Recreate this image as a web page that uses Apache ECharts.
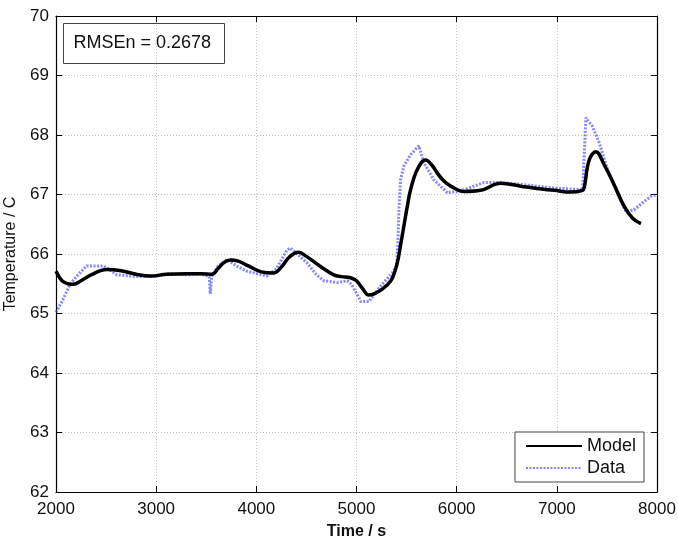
<!DOCTYPE html>
<html>
<head>
<meta charset="utf-8">
<script src="https://cdn.jsdelivr.net/npm/echarts@6/dist/echarts.min.js"></script>
<style>html,body{margin:0;padding:0;background:#fff}#c{width:678px;height:539px}</style>
</head>
<body>
<div id="c"></div>
<script>
const xTicks = [2000, 3000, 4000, 5000, 6000, 7000, 8000];
const yTicks = [62, 63, 64, 65, 66, 67, 68, 69, 70];

const modelTime = [2000, 2060, 2120, 2173, 2250, 2350, 2507, 2650, 2800, 2940, 3107, 3300, 3450, 3557, 3620, 3680, 3740, 3820, 3920, 4050, 4170, 4250, 4330, 4420, 4500, 4640, 4773, 4850, 4940, 5000, 5060, 5123, 5200, 5307, 5360, 5407, 5440, 5473, 5507, 5540, 5607, 5690, 5750, 5807, 5870, 5940, 6073, 6240, 6440, 6640, 6800, 6973, 7140, 7257, 7273, 7323, 7390, 7473, 7573, 7673, 7757, 7840];
const modelTemp = [65.71, 65.55, 65.50, 65.49, 65.55, 65.65, 65.74, 65.72, 65.66, 65.63, 65.66, 65.67, 65.67, 65.66, 65.76, 65.86, 65.90, 65.88, 65.80, 65.70, 65.68, 65.78, 65.95, 66.03, 65.96, 65.79, 65.65, 65.62, 65.60, 65.55, 65.42, 65.31, 65.35, 65.48, 65.60, 65.85, 66.15, 66.47, 66.80, 67.08, 67.42, 67.58, 67.50, 67.36, 67.23, 67.14, 67.05, 67.07, 67.19, 67.14, 67.10, 67.07, 67.04, 67.07, 67.11, 67.58, 67.72, 67.50, 67.16, 66.80, 66.60, 66.51];

const dataTime = [2000, 2060, 2140, 2220, 2307, 2473, 2550, 2607, 2800, 3000, 3120, 3300, 3450, 3530, 3540, 3555, 3620, 3707, 3800, 3907, 4107, 4200, 4307, 4340, 4420, 4507, 4600, 4673, 4807, 4907, 4950, 5023, 5040, 5123, 5240, 5357, 5400, 5413, 5425, 5440, 5473, 5540, 5623, 5673, 5770, 5907, 6040, 6273, 6440, 6640, 6973, 7257, 7267, 7280, 7290, 7357, 7423, 7507, 7590, 7690, 7770, 7870, 7940, 8000];
const dataTemp = [65.02, 65.20, 65.49, 65.65, 65.80, 65.80, 65.72, 65.65, 65.62, 65.62, 65.67, 65.65, 65.66, 65.62, 65.33, 65.62, 65.80, 65.91, 65.80, 65.71, 65.63, 65.75, 66.07, 66.10, 65.98, 65.85, 65.65, 65.55, 65.52, 65.55, 65.49, 65.27, 65.20, 65.20, 65.46, 65.68, 65.80, 66.20, 66.80, 67.25, 67.48, 67.67, 67.82, 67.53, 67.25, 67.03, 67.06, 67.20, 67.20, 67.17, 67.11, 67.08, 67.10, 67.90, 68.29, 68.14, 67.87, 67.42, 67.08, 66.71, 66.74, 66.88, 66.97, 67.00];

const FONT = '"Liberation Sans", Arial, sans-serif';
const modelPts = modelTime.map((t, i) => [t, modelTemp[i]]);
const dataPts = dataTime.map((t, i) => [t, dataTemp[i]]);

const chart = echarts.init(document.getElementById('c'), null, {renderer: 'canvas'});
const axisLineStyle = {color: '#000', width: 1.2};
const grid = {color: '#c4c4c4', type: [1, 2], width: 1};
chart.setOption({
  animation: false,
  backgroundColor: '#fff',
  grid: {left: 56, right: 21, top: 16, bottom: 47, containLabel: false, outerBoundsMode: 'none'},
  xAxis: [{
    type: 'value', min: xTicks[0], max: xTicks[xTicks.length - 1], interval: 1000,
    name: 'Time / s', nameLocation: 'middle', nameGap: 32,
    nameTextStyle: {fontFamily: FONT, fontSize: 16, color: '#111', fontWeight: 'bold'},
    axisLine: {show: true, lineStyle: axisLineStyle},
    axisTick: {show: true, inside: true, length: 6, lineStyle: {color: '#000'}},
    axisLabel: {fontFamily: FONT, fontSize: 17, color: '#111', margin: 9, formatter: v => String(v)},
    splitLine: {show: true, lineStyle: grid}
  }, {
    type: 'value', position: 'top', min: xTicks[0], max: xTicks[xTicks.length - 1], interval: 1000,
    axisLine: {show: true, lineStyle: axisLineStyle},
    axisTick: {show: true, inside: true, length: 6, lineStyle: {color: '#000'}},
    axisLabel: {show: false}, splitLine: {show: false}
  }],
  yAxis: [{
    type: 'value', min: yTicks[0], max: yTicks[yTicks.length - 1], interval: 1,
    name: 'Temperature / C', nameLocation: 'middle', nameGap: 37,
    nameTextStyle: {fontFamily: FONT, fontSize: 16, color: '#111'},
    axisLine: {show: true, lineStyle: axisLineStyle},
    axisTick: {show: true, inside: true, length: 6, lineStyle: {color: '#000'}},
    axisLabel: {fontFamily: FONT, fontSize: 17, color: '#111', margin: 7},
    splitLine: {show: true, lineStyle: grid}
  }, {
    type: 'value', position: 'right', min: yTicks[0], max: yTicks[yTicks.length - 1], interval: 1,
    axisLine: {show: true, lineStyle: axisLineStyle},
    axisTick: {show: true, inside: true, length: 6, lineStyle: {color: '#000'}},
    axisLabel: {show: false}, splitLine: {show: false}
  }],
  legend: {
    orient: 'vertical', right: 34, bottom: 57,
    backgroundColor: '#fff', borderColor: '#444', borderWidth: 1,
    padding: [5, 8, 5, 10], itemGap: 4, itemWidth: 56, itemHeight: 16,
    itemStyle: {opacity: 0},
    textStyle: {fontFamily: FONT, fontSize: 18, color: '#111'},
    data: ['Model', 'Data']
  },
  series: [{
    name: 'Data', type: 'line', data: dataPts, symbol: 'none', smooth: false,
    itemStyle: {color: 'rgba(70,70,255,0.7)'},
    lineStyle: {color: 'rgba(70,70,255,0.65)', width: 3, type: [2, 1.5]}, z: 2
  }, {
    name: 'Model', type: 'line', data: modelPts, symbol: 'none', smooth: 0.4,
    itemStyle: {color: '#000'},
    lineStyle: {color: '#000', width: 3.5}, z: 3
  }],
  graphic: [{
    type: 'group', left: 63, top: 23,
    children: [{
      type: 'rect', shape: {x: 0, y: 0, width: 161, height: 40},
      style: {fill: '#fff', stroke: '#444', lineWidth: 1}
    }, {
      type: 'text', x: 10, y: 20,
      style: {text: 'RMSEn = 0.2678', font: '18px ' + FONT, fill: '#111', textVerticalAlign: 'middle'}
    }]
  }]
});
</script>
</body>
</html>
